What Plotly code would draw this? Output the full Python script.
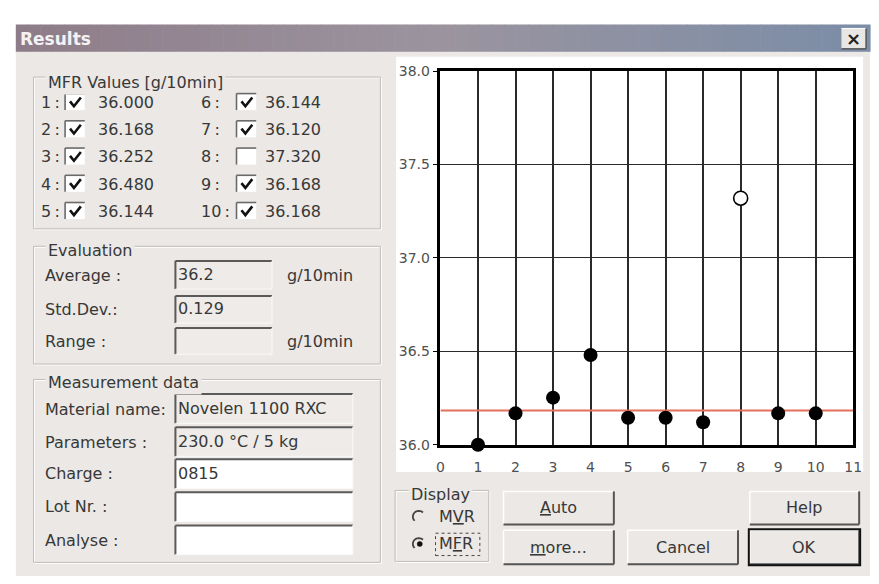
import math
import plotly.graph_objects as go

# ---------------- data ----------------
sample_ids = [1, 2, 3, 4, 5, 6, 7, 8, 9, 10]
mfr_values = [36.000, 36.168, 36.252, 36.480, 36.144, 36.144, 36.120, 37.320, 36.168, 36.168]
included = [True, True, True, True, True, True, True, False, True, True]
x_ticks = list(range(0, 12))
y_ticks = [36.0, 36.5, 37.0, 37.5, 38.0]
average_text = "36.2"
std_dev_text = "0.129"
range_text = ""
unit_text = "g/10min"
material_name = "Novelen 1100 RXC"
parameters_text = "230.0 \u00b0C / 5 kg"
charge_text = "0815"
lot_text = ""
analyse_text = ""

inc_vals = [v for v, k in zip(mfr_values, included) if k]
average_value = sum(inc_vals) / len(inc_vals)

# ---------------- helpers ----------------
W, H = 879, 584
FONT = "DejaVu Sans"
BG = "#ebe8e5"
TXT = "#383838"


def X(p):
    return p / W


def Y(p):
    return 1 - p / H


shapes = []
annots = []


def rect(x0, y0, x1, y1, fill=None, line=None, lw=0, dash=None, layer="below"):
    d = dict(type="rect", xref="paper", yref="paper", x0=X(x0), x1=X(x1), y0=Y(y1), y1=Y(y0),
             layer=layer, line=dict(width=lw, color=line or "rgba(0,0,0,0)"))
    if fill:
        d["fillcolor"] = fill
    if dash:
        d["line"]["dash"] = dash
    shapes.append(d)


def seg(x0, y0, x1, y1, color, w, layer="below"):
    shapes.append(dict(type="line", xref="paper", yref="paper", x0=X(x0), y0=Y(y0), x1=X(x1), y1=Y(y1),
                       line=dict(color=color, width=w), layer=layer))


def path(pts, color, w):
    p = "M " + " L ".join(f"{X(a):.5f},{Y(b):.5f}" for a, b in pts)
    shapes.append(dict(type="path", xref="paper", yref="paper", path=p,
                       line=dict(color=color, width=w), layer="above"))


def circle(cx, cy, r, fill, line, lw):
    shapes.append(dict(type="circle", xref="paper", yref="paper", x0=X(cx - r), x1=X(cx + r),
                       y0=Y(cy + r), y1=Y(cy - r), fillcolor=fill, line=dict(color=line, width=lw), layer="above"))


def text(x, y, s, size=16, color=TXT, anchor="left", bold=False, bg=None):
    if bold:
        s = "<b>" + s + "</b>"
    a = dict(x=X(x), y=Y(y), xref="paper", yref="paper", text=s, showarrow=False, xanchor=anchor,
             yanchor="middle", font=dict(family=FONT, size=size, color=color), borderpad=0)
    if bg:
        a["bgcolor"] = bg
        a["borderpad"] = 2
    annots.append(a)


def sunken(x0, y0, x1, y1, fill):
    rect(x0, y0, x1, y1, fill=fill)
    seg(x0, y0, x1, y0, "#5a5a5a", 2)
    seg(x0, y0, x0, y1, "#5a5a5a", 2)
    seg(x0, y1, x1, y1, "#fafafa", 1)
    seg(x1, y0, x1, y1, "#fafafa", 1)


def button(x0, y0, x1, y1, label, default=False):
    rect(x0, y0, x1, y1, fill=BG)
    seg(x0, y0, x1, y0, "#ffffff", 1.5)
    seg(x0, y0, x0, y1, "#ffffff", 1.5)
    seg(x0, y1, x1, y1, "#555555", 2)
    seg(x1, y0, x1, y1, "#555555", 2)
    if default:
        rect(x0 - 1, y0 - 1, x1 + 1, y1 + 1, line="#111111", lw=2)
    text((x0 + x1) / 2, (y0 + y1) / 2, label, anchor="center")


def group(x0, y0, x1, y1, label, lx, ly):
    rect(x0 + 1, y0 + 1, x1 + 1, y1 + 1, line="#ffffff", lw=1)
    rect(x0, y0, x1, y1, line="#c0bdb9", lw=1)
    text(lx, ly, label, bg=BG)


def checkbox(x0, yc, checked):
    rect(x0, yc - 9, x0 + 20, yc + 8, fill="#ffffff")
    seg(x0, yc - 9, x0 + 20, yc - 9, "#6a6a6a", 1.6)
    seg(x0, yc - 9, x0, yc + 8, "#6a6a6a", 1.6)
    if checked:
        path([(x0 + 5, yc - 1), (x0 + 9, yc + 4), (x0 + 16, yc - 5)], "#111111", 2.6)


def radio(cx, cy, selected):
    r = 6
    pts = [(cx + r * math.cos(math.radians(a)), cy - r * math.sin(math.radians(a))) for a in range(45, 230, 15)]
    path(pts, "#444444", 1.8)
    if selected:
        circle(cx + 1, cy, 2.6, "#111111", "#111111", 0.5)


# ---------------- dialog frame ----------------
rect(12, 17, 879, 584, fill=BG)
# title bar gradient
c_l, c_m, c_r = (0x8e, 0x7d, 0x89), (0x9b, 0x94, 0x9f), (0x7b, 0x8d, 0xa7)
n = 70
bx0, bx1 = 12, 879
sw = (bx1 - bx0) / n
for i in range(n):
    t = i / (n - 1)
    if t < 0.5:
        a, b, u = c_l, c_m, t / 0.5
    else:
        a, b, u = c_m, c_r, (t - 0.5) / 0.5
    col = "rgb(%d,%d,%d)" % tuple(round(a[k] + (b[k] - a[k]) * u) for k in range(3))
    rect(bx0 + i * sw, 17, bx0 + (i + 1) * sw + 0.6, 45, fill=col)
text(15, 32, "Results", size=17, color="#f4f2f4", bold=True)
# close button
rect(850, 21, 875, 42, fill="#e9e7e4")
seg(850, 21, 875, 21, "#ffffff", 1)
seg(850, 42, 875, 42, "#555555", 1.5)
seg(875, 21, 875, 42, "#555555", 1.5)
text(862.5, 31.5, "\u00d7", size=18, color="#222222", anchor="center", bold=True)

# chart control background (white)
rect(398, 50, 872, 477, fill="#ffffff")

# ---------------- MFR values group ----------------
group(30, 71, 382, 227, "MFR Values [g/10min]", 42, 77)
row_y = [97, 125, 153, 181, 209]
for i, (sid, v, k) in enumerate(zip(sample_ids, mfr_values, included)):
    col = i // 5
    yy = row_y[i % 5]
    if col == 0:
        text(37, yy, f"{sid}\u2009:")
        checkbox(62, yy, k)
        text(94, yy, f"{v:.3f}")
    else:
        text(199, yy, f"{sid}\u2009:")
        checkbox(236, yy, k)
        text(264, yy, f"{v:.3f}")

# ---------------- Evaluation group ----------------
RO = "#eeebe8"
group(30, 245, 382, 366, "Evaluation", 42, 249)
text(41, 275, "Average :")
sunken(174, 260, 272, 289, RO)
text(176, 274, average_text)
text(286, 275, unit_text)
text(41, 310, "Std.Dev.:")
sunken(174, 296, 272, 324, RO)
text(176, 309, std_dev_text)
text(41, 343, "Range :")
sunken(174, 329, 272, 356, RO)
text(176, 342, range_text)
text(286, 343, unit_text)

# ---------------- Measurement data group ----------------
group(30, 382, 382, 570, "Measurement data", 42, 385)
meas = [("Material name:", material_name, 397, 427, 413, RO),
        ("Parameters :", parameters_text, 431, 461, 447, RO),
        ("Charge :", charge_text, 464, 494, 479, "#ffffff"),
        ("Lot Nr. :", lot_text, 498, 528, 513, "#ffffff"),
        ("Analyse :", analyse_text, 532, 562, 547, "#ffffff")]
for lab, val, y0, y1, yl, fill in meas:
    text(41, yl, lab)
    sunken(174, y0, 354, y1, fill)
    text(176, (y0 + y1) / 2, val)

# ---------------- Display group & buttons ----------------
group(397, 496, 492, 569, "Display", 410, 500)
radio(421, 523, False)
text(441, 523, "M<u>V</u>R")
radio(421, 551, True)
text(441, 551, "M<u>F</u>R")
rect(438, 540, 483, 563, line="#444444", lw=1, dash="dot", layer="above")

button(507, 497, 619, 531, "<u>A</u>uto")
button(507, 537, 619, 572, "<u>m</u>ore...")
button(633, 537, 745, 572, "Cancel")
button(757, 497, 868, 531, "Help")
button(757, 537, 868, 572, "OK", default=True)

# ---------------- chart ----------------
fig = go.Figure()
fig.add_trace(go.Scatter(x=[x_ticks[0], x_ticks[-1]], y=[average_value, average_value], mode="lines",
                         line=dict(color="#e3705c", width=2), hoverinfo="skip", showlegend=False))
fig.add_trace(go.Scatter(x=[s for s, k in zip(sample_ids, included) if k],
                         y=[v for v, k in zip(mfr_values, included) if k], mode="markers",
                         marker=dict(size=14, color="#000000"), cliponaxis=False, showlegend=False))
fig.add_trace(go.Scatter(x=[s for s, k in zip(sample_ids, included) if not k],
                         y=[v for v, k in zip(mfr_values, included) if not k], mode="markers",
                         marker=dict(size=14, color="#ffffff", line=dict(color="#000000", width=1.6)),
                         cliponaxis=False, showlegend=False))

fig.update_xaxes(domain=[X(443), X(862)], range=[0, 11], tickvals=x_ticks,
                 ticktext=[str(v) for v in x_ticks], showgrid=True, gridcolor="#2a2a2a", gridwidth=1.6,
                 showline=True, linecolor="#000000", linewidth=2.5, mirror=True, ticks="",
                 zeroline=False, tickfont=dict(family=FONT, size=14, color="#505050"),
                 ticklabelstandoff=8, fixedrange=True)
fig.update_yaxes(domain=[Y(449), Y(65)], range=[36, 38], tickvals=y_ticks,
                 ticktext=[f"{v:.1f}" for v in y_ticks], showgrid=True, gridcolor="#2a2a2a", gridwidth=1.4,
                 showline=True, linecolor="#000000", linewidth=2.5, mirror=True, ticks="outside",
                 ticklen=5, tickwidth=1.4, tickcolor="#000000", zeroline=False,
                 tickfont=dict(family=FONT, size=14, color="#505050"), fixedrange=True)

fig.update_layout(autosize=True, margin=dict(l=0, r=0, t=0, b=0),
                  paper_bgcolor="#ffffff", plot_bgcolor="rgba(0,0,0,0)", shapes=shapes,
                  annotations=annots, showlegend=False, hovermode=False)

fig.write_html("out.html", config={"displayModeBar": False, "responsive": True},
               default_width="100vw", default_height="100vh",
               post_script="document.body.style.margin='0px';document.body.style.overflow='hidden';"
                           "Plotly.Plots.resize(document.getElementById('{plot_id}'));")
